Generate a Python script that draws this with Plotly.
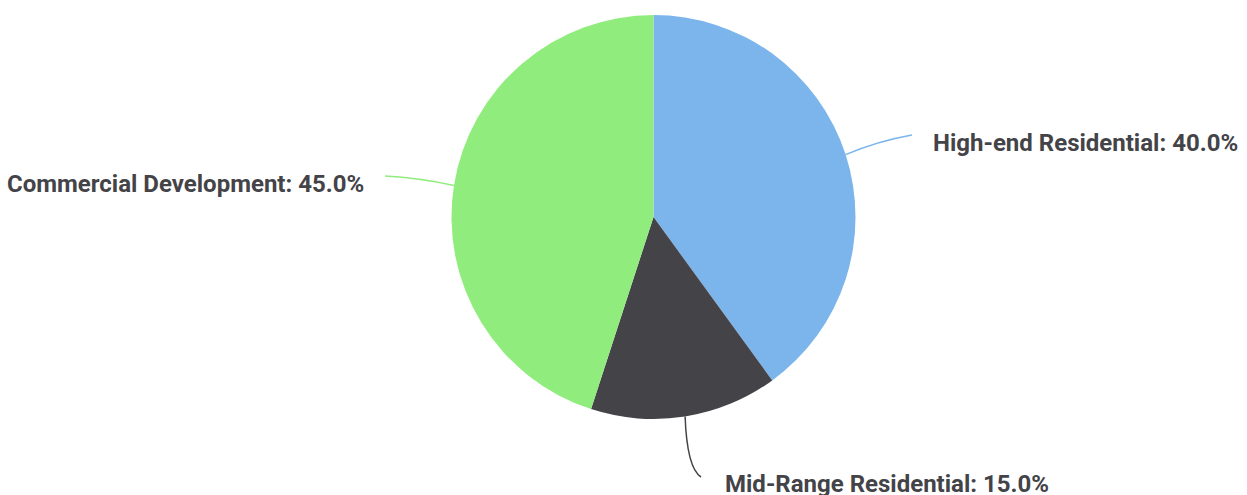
import math
import plotly.graph_objects as go

categories = ["High-end Residential", "Mid-Range Residential", "Commercial Development"]
values = [40.0, 15.0, 45.0]
colors = ["#7cb5ec", "#434348", "#90ed7d"]

W, H = 1247, 495
CX, CY, R = 653.5, 217.0, 202.0  # pie centre / radius in pixels

def px(x):
    return x / W

def py(y):
    return 1 - y / H

fig = go.Figure(go.Pie(
    labels=categories,
    values=values,
    marker=dict(colors=colors, line=dict(width=0)),
    sort=False,
    direction="clockwise",
    rotation=0,
    textinfo="none",
    hoverinfo="none",
    showlegend=False,
    domain=dict(x=[px(CX - R), px(CX + R)], y=[py(CY + R), py(CY - R)]),
))

# label placement (pixel layout) per category
label_layout = {
    "High-end Residential": dict(x=931, y=143, align="left", end=(912, 135), ctrl=(878, 141)),
    "Mid-Range Residential": dict(x=723, y=484, align="left", end=(701, 477), ctrl=(687, 468)),
    "Commercial Development": dict(x=366, y=184, align="right", end=(385, 176), ctrl=(420, 178)),
}

total = sum(values)
cum = 0.0
shapes = []
annotations = []
for cat, val, col in zip(categories, values, colors):
    mid = (cum + val / 2) / total * 2 * math.pi
    cum += val
    sx = CX + R * math.sin(mid)
    sy = CY - R * math.cos(mid)
    L = label_layout[cat]
    ex, ey = L["end"]
    qx, qy = L["ctrl"]
    path = f"M {px(sx)} {py(sy)} Q {px(qx)} {py(qy)} {px(ex)} {py(ey)}"
    shapes.append(dict(type="path", path=path, xref="paper", yref="paper",
                       line=dict(color=col, width=1.5)))
    pct = val / total * 100
    annotations.append(dict(
        x=px(L["x"]), y=py(L["y"]), xref="paper", yref="paper",
        text=f"<b>{cat}: {pct:.1f}%</b>", showarrow=False,
        xanchor=L["align"], yanchor="middle",
        font=dict(family="Roboto", size=24, color="#434348"),
    ))

fig.update_layout(
    width=W, height=H,
    margin=dict(l=0, r=0, t=0, b=0),
    paper_bgcolor="white", plot_bgcolor="white",
    shapes=shapes, annotations=annotations,
)

fig.write_html("out.html")
